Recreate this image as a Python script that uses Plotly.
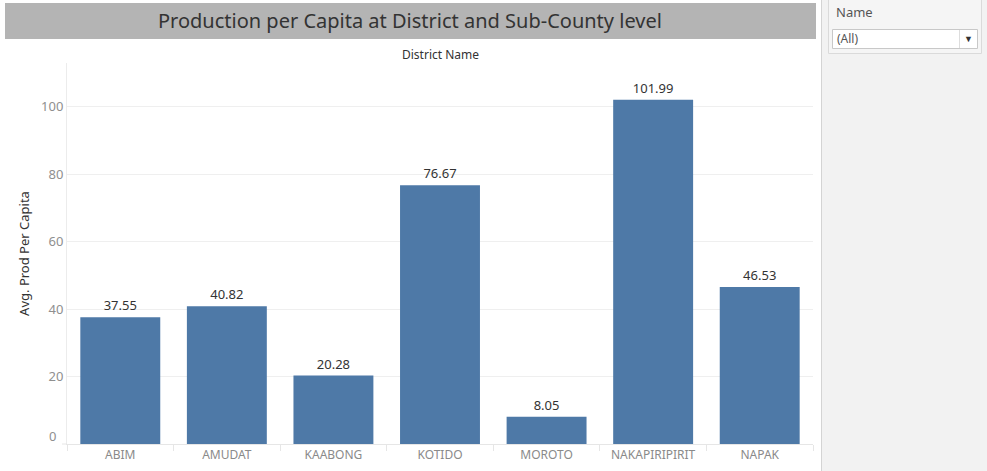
import plotly.graph_objects as go

districts = ["ABIM", "AMUDAT", "KAABONG", "KOTIDO", "MOROTO", "NAKAPIRIPIRIT", "NAPAK"]
prod_per_capita = [37.55, 40.82, 20.28, 76.67, 8.05, 101.99, 46.53]
y_ticks = [20, 40, 60, 80, 100]

W_FIG, H_FIG = 987, 471
L, R, T, B = 67, 813, 63, 444

def px(x):
    return (x - L) / (R - L)

def py(y):
    return (B - y) / (B - T)

FONT = "Noto Sans"

fig = go.Figure()
fig.add_trace(go.Bar(
    x=districts, y=prod_per_capita,
    marker=dict(color="#4e79a7", line=dict(width=0)),
    text=[f"{v:.2f}" for v in prod_per_capita],
    textposition="outside", cliponaxis=False,
    textfont=dict(family=FONT, size=13, color="#333333"),
    hoverinfo="x+y",
))

shapes = [
    # title bar
    dict(type="rect", xref="paper", yref="paper", x0=px(5), x1=px(816), y0=py(39), y1=py(3),
         fillcolor="#b4b4b4", line=dict(width=0), layer="below"),
    # side panel
    dict(type="rect", xref="paper", yref="paper", x0=px(822), x1=px(988), y0=py(472), y1=py(-1),
         fillcolor="#f2f2f2", line=dict(width=0), layer="below"),
    dict(type="line", xref="paper", yref="paper", x0=px(821.5), x1=px(821.5), y0=py(472), y1=py(-1),
         line=dict(color="#d4d4d4", width=1)),
    dict(type="rect", xref="paper", yref="paper", x0=px(828.5), x1=px(981.5), y0=py(53.5), y1=py(-2),
         fillcolor="#f5f5f5", line=dict(color="#dadada", width=1)),
    dict(type="rect", xref="paper", yref="paper", x0=px(832.5), x1=px(977.5), y0=py(48.5), y1=py(29.5),
         fillcolor="#ffffff", line=dict(color="#c8c8c8", width=1)),
    dict(type="line", xref="paper", yref="paper", x0=px(959.5), x1=px(959.5), y0=py(48), y1=py(30),
         line=dict(color="#dddddd", width=1)),
    # bottom axis line extension to the left
    dict(type="line", xref="paper", yref="paper", x0=px(62), x1=px(67), y0=0, y1=0,
         line=dict(color="#e6e6e6", width=1)),
]

annotations = [
    dict(text="Production per Capita at District and Sub-County level", xref="paper", yref="paper",
         x=px(410), y=py(21), showarrow=False, xanchor="center", yanchor="middle",
         font=dict(family=FONT, size=20, color="#333333")),
    dict(text="District Name", xref="paper", yref="paper", x=px(440), y=py(54),
         showarrow=False, xanchor="center", yanchor="middle",
         font=dict(family=FONT, size=12, color="#333333")),
    dict(text="0", xref="paper", yref="y", x=0, y=0, xshift=-9, yshift=8, showarrow=False,
         xanchor="right", yanchor="middle", font=dict(family=FONT, size=13, color="#8f8f8f")),
    dict(text="Name", xref="paper", yref="paper", x=px(834), y=py(12), showarrow=False,
         xanchor="left", yanchor="middle", font=dict(family=FONT, size=13, color="#555555")),
    dict(text="(All)", xref="paper", yref="paper", x=px(835), y=py(39), showarrow=False,
         xanchor="left", yanchor="middle", font=dict(family=FONT, size=12, color="#555555")),
    dict(text="▼", xref="paper", yref="paper", x=px(968), y=py(39), showarrow=False,
         xanchor="center", yanchor="middle", font=dict(family=FONT, size=9, color="#333333")),
]

fig.update_layout(
    width=W_FIG, height=H_FIG,
    margin=dict(l=L, r=W_FIG - R, t=T, b=H_FIG - B, pad=0),
    paper_bgcolor="white", plot_bgcolor="white",
    bargap=0.25, showlegend=False,
    font=dict(family=FONT),
    shapes=shapes, annotations=annotations,
    xaxis=dict(
        automargin=False,
        showgrid=False, showline=True, linecolor="#e6e6e6", linewidth=1,
        ticks="outside", tickson="boundaries", ticklen=6, tickcolor="#e6e6e6",
        tickfont=dict(family=FONT, size=12, color="#8a8a8a"),
        fixedrange=True,
    ),
    yaxis=dict(
        automargin=False,
        range=[0, 112.9], tickvals=y_ticks, ticktext=[str(v) for v in y_ticks],
        showgrid=True, gridcolor="#efefef", gridwidth=1,
        zeroline=False, showline=True, linecolor="#ececec",
        ticks="", tickfont=dict(family=FONT, size=13, color="#8f8f8f"),
        title=dict(text="Avg. Prod Per Capita", standoff=8,
                   font=dict(family=FONT, size=13, color="#333333")),
        fixedrange=True,
    ),
)

fig.write_html("out.html", config={"displayModeBar": False})
